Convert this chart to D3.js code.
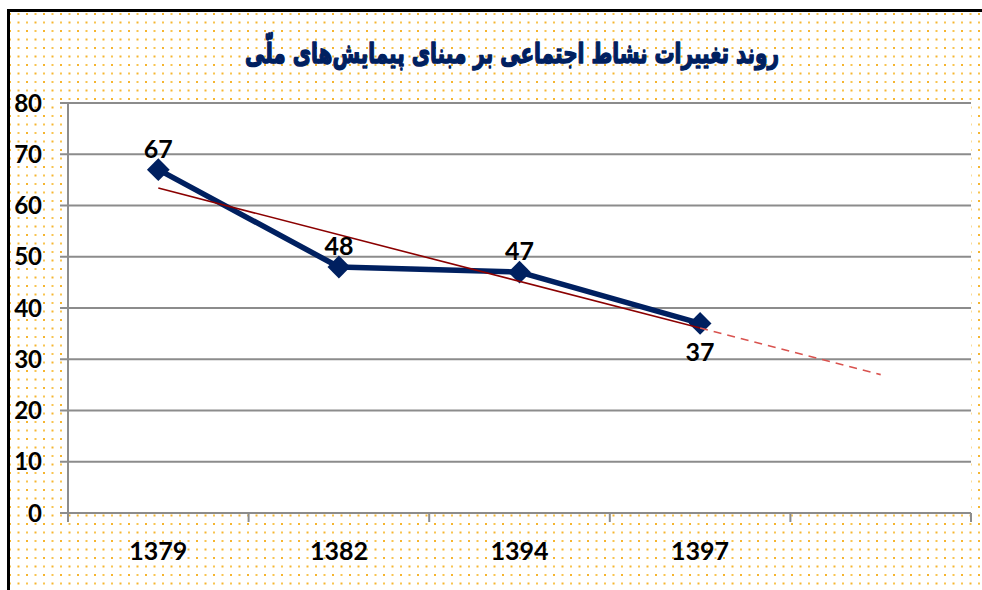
<!DOCTYPE html>
<html>
<head>
<meta charset="utf-8">
<script src="https://cdn.jsdelivr.net/npm/d3@7"></script>
<style>
  html, body { margin: 0; padding: 0; background: #fff; }
  svg { display: block; }
</style>
</head>
<body>
<svg id="chart" width="982" height="590"></svg>
<script>
const title = "روند تغییرات نشاط اجتماعی بر مبنای پیمایش‌های ملّی";
const categories = ["1379", "1382", "1394", "1397", ""];
const values = [67, 48, 47, 37];
const yTicks = [0, 10, 20, 30, 40, 50, 60, 70, 80];
const forecastPeriods = 1;

const W = 982, H = 590;
const svg = d3.select("#chart");
const defs = svg.append("defs");
const pat = defs.append("pattern").attr("id", "dots")
  .attr("patternUnits", "userSpaceOnUse").attr("width", 17).attr("height", 17)
  .attr("x", 9).attr("y", 13);
pat.append("rect").attr("x", 0).attr("y", 0).attr("width", 2).attr("height", 2).attr("fill", "#f5b530");
pat.append("rect").attr("x", 8.5).attr("y", 0).attr("width", 2).attr("height", 2).attr("fill", "#f8c450");
pat.append("rect").attr("x", 0).attr("y", 8.5).attr("width", 2).attr("height", 2).attr("fill", "#f8c450");
pat.append("rect").attr("x", 8.5).attr("y", 8.5).attr("width", 2).attr("height", 2).attr("fill", "#f5b530");

svg.append("rect").attr("x", 9).attr("y", 11).attr("width", W).attr("height", H)
  .attr("fill", "#fff");
svg.append("rect").attr("x", 9).attr("y", 11).attr("width", W).attr("height", H)
  .attr("fill", "url(#dots)");
svg.append("line").attr("x1", 8).attr("x2", W).attr("y1", 10.5).attr("y2", 10.5)
  .attr("stroke", "#000").attr("stroke-width", 3);
svg.append("line").attr("x1", 8.5).attr("x2", 8.5).attr("y1", 9).attr("y2", H)
  .attr("stroke", "#000").attr("stroke-width", 3);

// title
svg.append("g").attr("transform", "translate(512,63) scale(0.87,1.22)")
  .append("text").attr("x", 0).attr("y", 0)
  .attr("text-anchor", "middle").attr("direction", "rtl")
  .attr("font-family", "'DejaVu Sans', 'Noto Sans', sans-serif")
  .attr("font-weight", "bold").attr("font-size", 23).attr("fill", "#002060")
  .attr("stroke", "#002060").attr("stroke-width", 1.2).attr("stroke-linejoin", "round")
  .text(title);

const plot = { left: 68, right: 971, top: 103, bottom: 513 };
const x = d3.scaleBand().domain(d3.range(categories.length))
  .range([plot.left, plot.right]).paddingInner(0).paddingOuter(0);
const y = d3.scaleLinear().domain([0, 80]).range([plot.bottom, plot.top]);
const cx = i => x(i) + x.bandwidth() / 2;

svg.append("rect").attr("x", plot.left).attr("y", plot.top)
  .attr("width", plot.right - plot.left).attr("height", plot.bottom - plot.top)
  .attr("fill", "#fff");

svg.append("g").selectAll("line").data(yTicks).join("line")
  .attr("x1", plot.left - 8).attr("x2", plot.right)
  .attr("y1", d => y(d)).attr("y2", d => y(d))
  .attr("stroke", "#8c8c8c").attr("stroke-width", 2);

svg.append("line").attr("x1", plot.left).attr("x2", plot.left)
  .attr("y1", plot.top).attr("y2", plot.bottom + 9)
  .attr("stroke", "#8c8c8c").attr("stroke-width", 2);

const bounds = d3.range(categories.length + 1).map(i => i === categories.length ? plot.right : x(i));
svg.append("g").selectAll("line").data(bounds.slice(1)).join("line")
  .attr("x1", d => d).attr("x2", d => d)
  .attr("y1", plot.bottom).attr("y2", plot.bottom + 9)
  .attr("stroke", "#8c8c8c").attr("stroke-width", 2);

const fontNum = "Lato, 'Open Sans', sans-serif";
svg.append("g").selectAll("text").data(yTicks).join("text")
  .attr("x", 42).attr("y", d => y(d)).attr("dy", "0.36em")
  .attr("text-anchor", "end").attr("font-family", fontNum)
  .attr("font-weight", "bold").attr("font-size", 24).attr("fill", "#000")
  .text(d => d);

svg.append("g").selectAll("text").data(categories).join("text")
  .attr("x", (d, i) => cx(i)).attr("y", 551).attr("dy", "0.36em")
  .attr("text-anchor", "middle").attr("font-family", fontNum)
  .attr("font-weight", "bold").attr("font-size", 25).attr("fill", "#000")
  .text(d => d);

const line = d3.line().x((d, i) => cx(i)).y(d => y(d));
svg.append("path").datum(values).attr("d", line)
  .attr("fill", "none").attr("stroke", "#002060").attr("stroke-width", 5.5)
  .attr("stroke-linejoin", "round");

const sym = d3.symbol().type(d3.symbolDiamond2).size(330);
svg.append("g").selectAll("path").data(values).join("path")
  .attr("transform", (d, i) => `translate(${cx(i)},${y(d)})`)
  .attr("d", sym).attr("fill", "#002060");

// linear trendline (least squares) with forward forecast
const n = values.length;
const xs = values.map((d, i) => i + 1);
const mx = d3.mean(xs), my = d3.mean(values);
const slope = d3.sum(xs, (xi, i) => (xi - mx) * (values[i] - my)) / d3.sum(xs, xi => (xi - mx) ** 2);
const icpt = my - slope * mx;
const tv = k => icpt + slope * (k + 1);
svg.append("line")
  .attr("x1", cx(0)).attr("y1", y(tv(0)))
  .attr("x2", cx(n - 1)).attr("y2", y(tv(n - 1)))
  .attr("stroke", "#8b0000").attr("stroke-width", 1.6);
svg.append("line")
  .attr("x1", cx(n - 1)).attr("y1", y(tv(n - 1)))
  .attr("x2", cx(n - 1 + forecastPeriods)).attr("y2", y(tv(n - 1 + forecastPeriods)))
  .attr("stroke", "#d9534f").attr("stroke-width", 1.6).attr("stroke-dasharray", "8,6");

svg.append("g").selectAll("text").data(values).join("text")
  .attr("x", (d, i) => cx(i))
  .attr("y", (d, i) => i === n - 1 ? y(d) + 29 : y(d) - 21)
  .attr("dy", "0.36em")
  .attr("text-anchor", "middle").attr("font-family", fontNum)
  .attr("font-weight", "bold").attr("font-size", 25).attr("fill", "#000")
  .text(d => d);
</script>
</body>
</html>
